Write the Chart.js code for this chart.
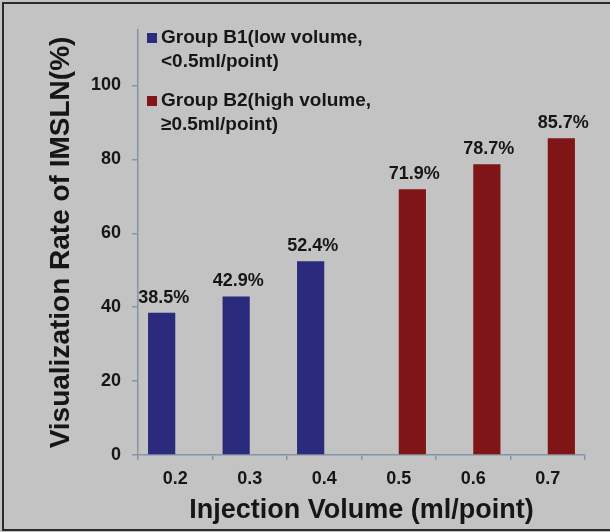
<!DOCTYPE html>
<html>
<head>
<meta charset="utf-8">
<style>
  html, body { margin: 0; padding: 0; background: #c3c3c3; }
  #wrap { width: 610px; height: 532px; }
</style>
<script src="https://cdn.jsdelivr.net/npm/chart.js@4/dist/chart.umd.min.js"></script>
</head>
<body>
<div id="wrap"><canvas id="chart" width="610" height="532"></canvas></div>
<script>
// data
const categories = ['0.2', '0.3', '0.4', '0.5', '0.6', '0.7'];
const lowVolume = [38.5, 42.9, 52.4, null, null, null];
const highVolume = [null, null, null, 71.9, 78.7, 85.7];
const lowLabel = ['Group B1(low volume,', '<0.5ml/point)'];
const highLabel = ['Group B2(high volume,', '\u22650.5ml/point)'];
const yTicks = [0, 20, 40, 60, 80, 100];

const textColor = '#161616';
const axisColor = '#8395a6';
const bgColor = '#c3c3c3';
const blue = '#2b2a7c';
const red = '#801517';
const fontFamily = '"Liberation Sans", Arial, sans-serif';

// background + frame
const frame = {
  id: 'frame',
  beforeDraw(chart) {
    const ctx = chart.ctx;
    ctx.save();
    ctx.fillStyle = bgColor;
    ctx.fillRect(0, 0, chart.width, chart.height);
    ctx.strokeStyle = '#2b2b2b';
    ctx.lineWidth = 2;
    ctx.strokeRect(3, 3, chart.width + 10, chart.height - 5);
    ctx.restore();
  }
};

// value labels above bars
const valueLabels = {
  id: 'valueLabels',
  afterDatasetsDraw(chart) {
    const ctx = chart.ctx;
    ctx.save();
    ctx.font = 'bold 18px ' + fontFamily;
    ctx.fillStyle = textColor;
    ctx.textAlign = 'center';
    ctx.textBaseline = 'middle';
    chart.data.datasets.forEach((ds, i) => {
      chart.getDatasetMeta(i).data.forEach((bar, j) => {
        if (ds.data[j] == null) return;
        ctx.fillText(ds.data[j].toFixed(1) + '%', bar.x + 2, bar.y - 15);
      });
    });
    ctx.restore();
  }
};

// two-line legend in the top-left of the plot
const sideLegend = {
  id: 'sideLegend',
  afterDraw(chart) {
    const ctx = chart.ctx;
    const left = chart.chartArea.left + 9;
    const tops = [38, 101];
    ctx.save();
    ctx.font = 'bold 19px ' + fontFamily;
    ctx.textBaseline = 'middle';
    ctx.textAlign = 'left';
    chart.data.datasets.forEach((ds, i) => {
      ctx.fillStyle = ds.backgroundColor;
      ctx.fillRect(left, tops[i] - 5, 10, 10);
      ctx.fillStyle = textColor;
      ds.label.forEach((line, k) => {
        ctx.fillText(line, left + 14, tops[i] + k * 24);
      });
    });
    ctx.restore();
  }
};

new Chart(document.getElementById('chart'), {
  type: 'bar',
  data: {
    labels: categories,
    datasets: [
      { label: lowLabel, data: lowVolume, backgroundColor: blue },
      { label: highLabel, data: highVolume, backgroundColor: red }
    ]
  },
  options: {
    responsive: false,
    animation: false,
    events: [],
    categoryPercentage: 0.73,
    barPercentage: 1.0,
    layout: { padding: { top: 30, right: 25, left: 44, bottom: 0 } },
    plugins: {
      legend: { display: false },
      tooltip: { enabled: false }
    },
    scales: {
      x: {
        afterFit(scale) { scale.height = 77; },
        border: { color: axisColor, width: 1.5 },
        grid: { drawOnChartArea: false, drawTicks: true, tickLength: 5, color: axisColor, lineWidth: 1.5 },
        ticks: {
          color: textColor,
          padding: 8,
          font: { family: fontFamily, size: 18, weight: 'bold' }
        },
        title: {
          display: true,
          text: 'Injection Volume (ml/point)',
          color: textColor,
          padding: { top: 0, bottom: 5 },
          font: { family: fontFamily, size: 27, weight: 'bold' }
        }
      },
      y: {
        min: 0,
        max: 115,
        afterFit(scale) { scale.width = 94; },
        afterBuildTicks(scale) { scale.ticks = yTicks.map(v => ({ value: v })); },
        border: { color: axisColor, width: 1.5 },
        grid: { drawOnChartArea: false, drawTicks: true, tickLength: 6, color: axisColor, lineWidth: 1.5 },
        ticks: {
          color: textColor,
          padding: 11,
          font: { family: fontFamily, size: 18, weight: 'bold' }
        },
        title: {
          display: true,
          text: 'Visualization Rate of IMSLN(%)',
          color: textColor,
          padding: { top: 0, bottom: 0 },
          font: { family: fontFamily, size: 28, weight: 'bold' }
        }
      }
    }
  },
  plugins: [frame, valueLabels, sideLegend]
});
</script>
</body>
</html>
